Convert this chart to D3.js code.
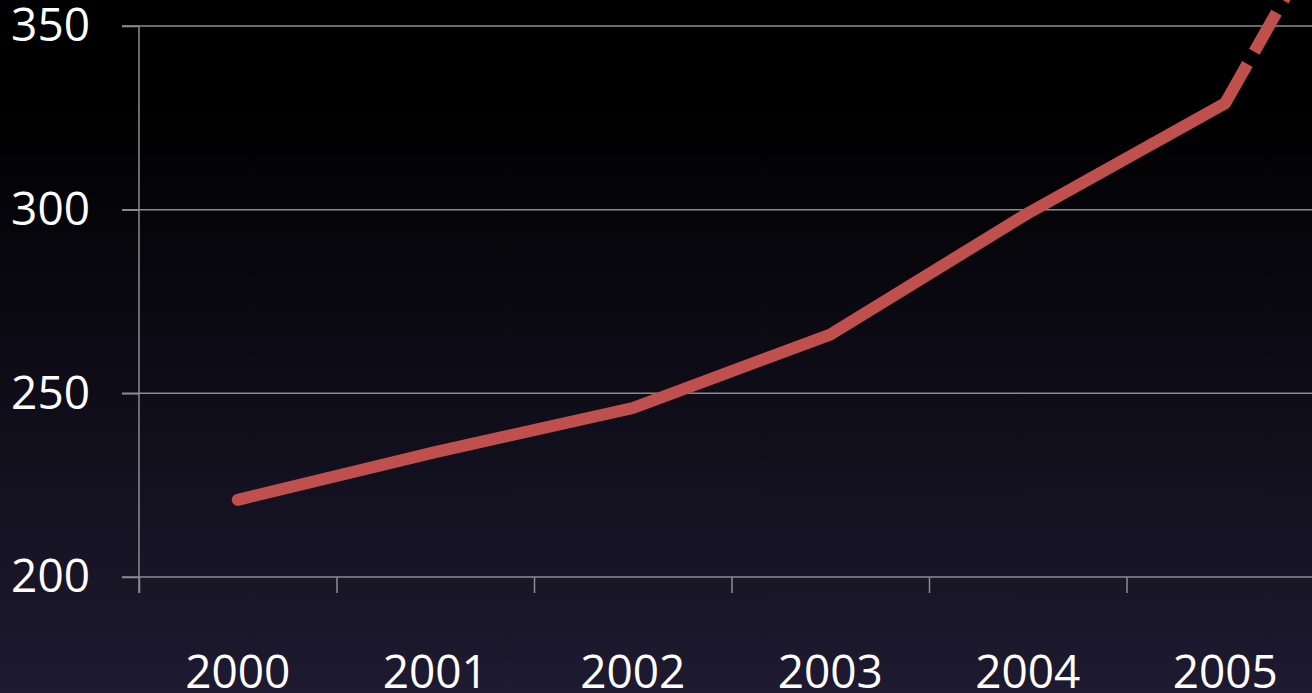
<!DOCTYPE html>
<html>
<head>
<meta charset="utf-8">
<script src="https://cdn.jsdelivr.net/npm/d3@7"></script>
<style>
html,body{margin:0;padding:0;background:#000;overflow:hidden;}
svg{display:block;}
</style>
</head>
<body>
<svg id="chart" width="1312" height="693"></svg>
<script>
const years = [2000, 2001, 2002, 2003, 2004, 2005];
const values = [221, 234, 246, 266, 299, 329];
const forecastYears = [2005, 2006];
const forecastValues = [329, 424];
const yTicks = [200, 250, 300, 350];

const W = 1312, H = 693;
const svg = d3.select("#chart");

const defs = svg.append("defs");
const grad = defs.append("linearGradient").attr("id","bg").attr("x1",0).attr("y1",0).attr("x2",0).attr("y2",1);
grad.append("stop").attr("offset","0").attr("stop-color","#000000");
grad.append("stop").attr("offset","0.15").attr("stop-color","#000000");
grad.append("stop").attr("offset","0.55").attr("stop-color","#0e0c17");
grad.append("stop").attr("offset","1").attr("stop-color","#1e1a30");
svg.append("rect").attr("width",W).attr("height",H).attr("fill","url(#bg)");

const x = d3.scaleLinear().domain([1999.5, 2005.5]).range([139, 1324]);
const y = d3.scaleLinear().domain([200, 350]).range([577, 26]);

const gridColor = "#8c8c8c";
// gridlines
svg.append("g").selectAll("line").data(yTicks.slice(1)).join("line")
  .attr("x1", 122).attr("x2", W)
  .attr("y1", d => y(d)).attr("y2", d => y(d))
  .attr("stroke", gridColor).attr("stroke-width", 1.5);

// y axis
const yAxis = svg.append("g").attr("transform", "translate(139,0)")
  .call(d3.axisLeft(y).tickValues(yTicks).tickSize(17).tickPadding(32).tickFormat(d3.format("d")));
yAxis.select(".domain").remove();
yAxis.selectAll(".tick line").attr("stroke", gridColor).attr("stroke-width", 1.5);
yAxis.selectAll(".tick text").attr("fill", "#ffffff")
  .style("font-family", "'Open Sans', 'Noto Sans', sans-serif").style("font-size", "46px");
svg.append("line").attr("x1",139).attr("x2",139).attr("y1",y(350)).attr("y2",593)
  .attr("stroke", gridColor).attr("stroke-width", 1.5);

// x axis
const tickPos = d3.range(1999.5, 2006.5, 1);
const xAxis = svg.append("g").attr("transform", `translate(0,${y(200)})`)
  .call(d3.axisBottom(x).tickValues(tickPos).tickSize(16).tickFormat(""));
xAxis.select(".domain").attr("stroke", gridColor).attr("stroke-width", 1.5).attr("d", `M122,0H${W}`);
xAxis.selectAll(".tick line").attr("stroke", gridColor).attr("stroke-width", 1.5);

svg.append("g").selectAll("text").data(years).join("text")
  .attr("x", d => x(d)).attr("y", 688)
  .attr("text-anchor", "middle").attr("fill", "#ffffff")
  .style("font-family", "'Open Sans', 'Noto Sans', sans-serif").style("font-size", "46px")
  .text(d => d);

const line = d3.line().x(d => x(d[0])).y(d => y(d[1]));

// forecast dashed
svg.append("path").datum(d3.zip(forecastYears, forecastValues))
  .attr("d", line).attr("fill", "none")
  .attr("stroke", "#c0504d").attr("stroke-width", 12)
  .attr("stroke-dasharray", "45,14");

// main line
svg.append("path").datum(d3.zip(years, values))
  .attr("d", line).attr("fill", "none")
  .attr("stroke", "#c0504d").attr("stroke-width", 12)
  .attr("stroke-linecap", "round").attr("stroke-linejoin", "miter");
</script>
</body>
</html>
